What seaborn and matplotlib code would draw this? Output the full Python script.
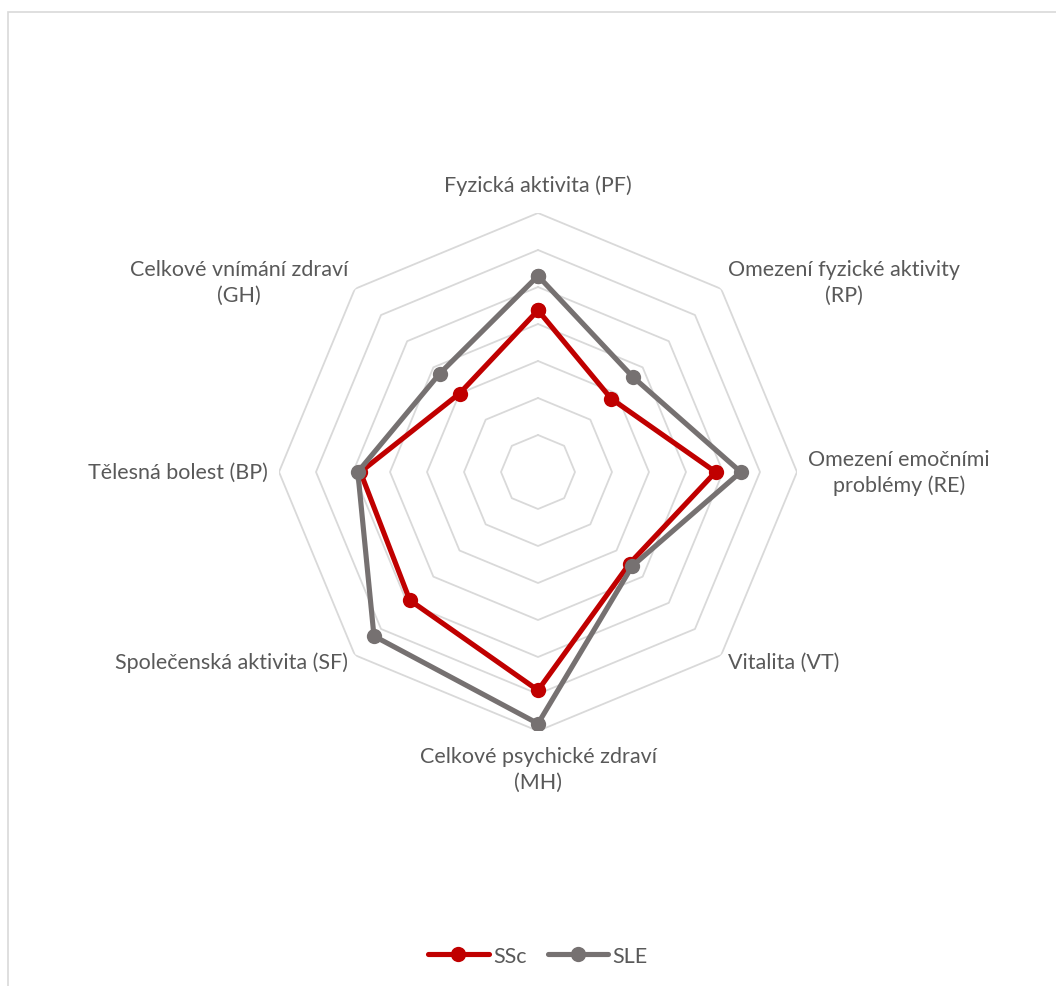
import numpy as np
import matplotlib
matplotlib.use("Agg")
import matplotlib.pyplot as plt
import seaborn as sns
from matplotlib.patches import Rectangle
from matplotlib.lines import Line2D

sns.set_theme(style="white")
plt.rcParams['font.family'] = ['Lato', 'DejaVu Sans']

categories = ["Fyzická aktivita (PF)", "Omezení fyzické aktivity\n(RP)",
              "Omezení emočními\nproblémy (RE)", "Vitalita (VT)",
              "Celkové psychické zdraví\n(MH)", "Společenská aktivita (SF)",
              "Tělesná bolest (BP)", "Celkové vnímání zdraví\n(GH)"]
ssc = [43.7, 28.0, 48.0, 35.0, 59.0, 49.0, 48.0, 30.0]
sle = [53.0, 36.3, 54.8, 36.0, 68.0, 62.7, 48.7, 37.6]
series_names = ["SSc", "SLE"]
series_colors = ["#c00000", "#767171"]
ring_levels = [10, 20, 30, 40, 50, 60, 70]
rmax = 70

W, H = 1056, 987
fig = plt.figure(figsize=(W / 100, H / 100), dpi=100)
fig.patch.set_facecolor("white")
fig.patches.append(Rectangle((8 / W, -0.1), 1.2, 1 - 13 / H + 0.1, transform=fig.transFigure,
                             fill=False, edgecolor="#d9d9d9", linewidth=1.2))

cx, cy, R = 538, 473, 259
ax = fig.add_axes([(cx - R) / W, 1 - (cy + R) / H, 2 * R / W, 2 * R / H], projection="polar")
ax.set_theta_zero_location("N")
ax.set_theta_direction(-1)
ax.set_ylim(0, rmax)
ax.grid(False)
ax.set_xticks([])
ax.set_yticks([])
ax.spines["polar"].set_visible(False)
ax.set_facecolor("none")

n = len(categories)
angles = np.linspace(0, 2 * np.pi, n, endpoint=False)
closed = np.concatenate([angles, angles[:1]])

for lv in ring_levels:
    ax.plot(closed, [lv] * (n + 1), color="#d9d9d9", linewidth=1.3, zorder=1)

for vals, name, col in zip([ssc, sle], series_names, series_colors):
    v = np.concatenate([vals, vals[:1]])
    sns.lineplot(x=closed, y=v, ax=ax, color=col, linewidth=3.7, marker="o",
                 markersize=11, markeredgewidth=0, sort=False, estimator=None,
                 label=name, zorder=3)

if ax.get_legend():
    ax.get_legend().remove()

label_cfg = [
    (77.6, "center", "center"),
    (72.5, "left", "center"),
    (73.0, "left", "center"),
    (72.5, "left", "center"),
    (74.0, "center", "top"),
    (72.5, "right", "center"),
    (73.0, "right", "center"),
    (72.5, "right", "center"),
]
for ang, lab, (r, ha, va) in zip(angles, categories, label_cfg):
    ax.text(ang, r, lab, ha=ha, va=va, multialignment="center",
            fontsize=15.5, color="#595959", linespacing=1.38)

handles = [Line2D([0], [0], color=c, linewidth=3.7, marker="o", markersize=11,
                  markeredgewidth=0) for c in series_colors]
fig.legend(handles, series_names, loc="center", bbox_to_anchor=(538 / W, 1 - 957 / H),
           ncol=2, frameon=False, fontsize=15.5, labelcolor="#595959",
           handlelength=2.8, handletextpad=0.2, columnspacing=1.0)

fig.savefig("out.png", dpi=100, facecolor="white")
